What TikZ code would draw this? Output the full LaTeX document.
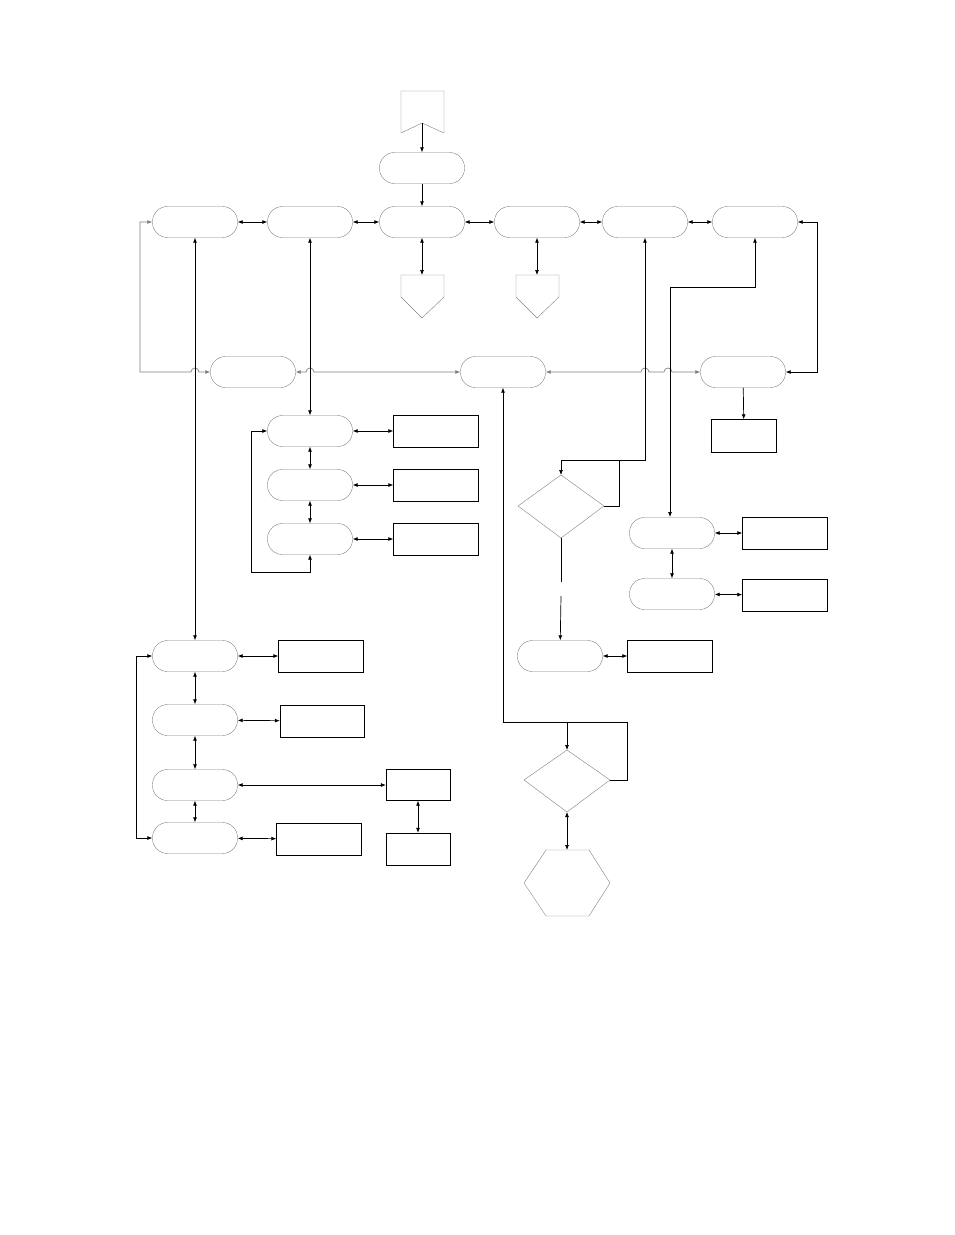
\documentclass[tikz,border=0pt]{standalone}
\usetikzlibrary{arrows.meta}
\begin{document}
\begin{tikzpicture}[x=1pt,y=-1pt,
  rb/.style={draw=gray,rounded corners=15pt,minimum width=85pt,minimum height=31pt,inner sep=0pt},
  rc/.style={draw,minimum width=85pt,minimum height=32pt,inner sep=0pt},
  ln/.style={draw,line width=0.7pt},
  a2/.style={ln,{Latex[length=5pt,width=4pt]}-{Latex[length=5pt,width=4pt]}},
  a1/.style={ln,-{Latex[length=5pt,width=4pt]}},
  sh/.style={draw=gray}]
\useasboundingbox (0,0) rectangle (954,1235);
% start flag
\draw[sh] (401,91) -- (444,91) -- (444,133) -- (422,123) -- (401,133) -- cycle;
\coordinate (fl) at (422,123);
\node[rb] (a0) at (422,168) {};
\foreach \n/\x in {b1/195,b2/310,b3/422,b4/537,b5/645,b6/755} \node[rb] (\n) at (\x,222) {};
\draw[a1] (fl) -- (a0);
\draw[a1] (a0) -- (b3);
\draw[a2] (b1) -- (b2); \draw[a2] (b2) -- (b3); \draw[a2] (b3) -- (b4);
\draw[a2] (b4) -- (b5); \draw[a2] (b5) -- (b6);
% offpage
\draw[sh] (401,275) -- (444,275) -- (444,297) -- (422,318) -- (401,297) -- cycle;
\draw[sh] (516,275) -- (559,275) -- (559,297) -- (537,318) -- (516,297) -- cycle;
\coordinate (p1) at (422,275); \coordinate (p2) at (537,275);
\draw[a2] (b3) -- (p1); \draw[a2] (b4) -- (p2);
% row 2
\node[rb] (c1) at (253,372) {};
\node[rb] (c2) at (503,372) {};
\node[rb] (c3) at (743,372) {};
\draw[a2,draw=gray] (b1.west) -- (140,222) -- (140,372) -- (191,372) arc[start angle=180,end angle=360,radius=4] -- (c1.west);
\draw[a2,draw=gray] (c1.east) -- (306,372) arc[start angle=180,end angle=360,radius=4] -- (c2.west);
\draw[a2,draw=gray] (c2.east) -- (641,372) arc[start angle=180,end angle=360,radius=4] -- (664,372) arc[start angle=180,end angle=360,radius=4] -- (c3.west);
\draw[a2] (b6.east) -- (817,222) -- (817,372) -- (c3.east);
\node[rc,minimum width=65pt,minimum height=33pt] (r0) at (744,436) {};
\draw[a1] (c3) -- (r0);
% middle column
\foreach \n/\y in {m1/431,m2/485,m3/539} {\node[rb] (\n) at (310,\y) {}; \node[rc] (\n r) at (436,\y) {}; \draw[a2] (\n) -- (\n r);}
\draw[a2] (b2) -- (m1);
\draw[a2] (m1) -- (m2); \draw[a2] (m2) -- (m3);
\draw[a2] (m1.west) -- (251,431) -- (251,572) -- (310,572) -- (m3.south);
% left column
\foreach \n/\y in {l1/656,l2/720,l3/785,l4/838} \node[rb] (\n) at (195,\y) {};
\node[rc] (l1r) at (321,656) {};
\node[rc,minimum width=84pt] (l2r) at (322,721) {};
\node[rc] (l4r) at (319,839) {};
\node[rc,minimum width=64pt,minimum height=31pt] (l3r) at (418,785) {};
\node[rc,minimum width=64pt,minimum height=32pt] (l5r) at (418,849) {};
\draw[a2] (b1) -- (l1);
\draw[a2] (l1) -- (l2); \draw[a2] (l2) -- (l3); \draw[a2] (l3) -- (l4);
\draw[a2] (l1) -- (l1r); \draw[a2] (l2) -- (l2r); \draw[a2] (l4) -- (l4r);
\draw[a2] (l3) -- (l3r); \draw[a2] (l3r) -- (l5r);
\draw[a2] (l1.west) -- (136,656) -- (136,838) -- (l4.west);
% diamond 1
\draw[sh] (561,475) -- (604,506) -- (561,538) -- (518,506) -- cycle;
\coordinate (d1t) at (561,475); \coordinate (d1r) at (604,506); \coordinate (d1b) at (561,538);
\node[rb] (e1) at (560,656) {};
\node[rc] (e1r) at (670,656) {};
\draw[a2] (e1) -- (e1r);
\draw[a2] (b5.south) -- (645,460) -- (561,460) -- (d1t);
\draw[ln] (d1r) -- (619,506) -- (619,460);
\draw[ln] (d1b) -- (561,582);
\draw[a1] (561,596) -- (e1);
% right column
\node[rb] (f1) at (672,533) {};
\node[rb] (f2) at (672,594) {};
\node[rc] (f1r) at (785,533) {};
\node[rc] (f2r) at (785,595) {};
\draw[a2] (f1) -- (f1r); \draw[a2] (f2) -- (f2r); \draw[a2] (f1) -- (f2);
\draw[a2] (b6.south) -- (755,287) -- (670,287) -- (670,517);
% diamond 2 and hexagon
\draw[sh] (567,750) -- (610,780) -- (567,812) -- (524,780) -- cycle;
\coordinate (d2t) at (567,750); \coordinate (d2r) at (610,780); \coordinate (d2b) at (567,812);
\draw[a2] (c2.south) -- (503,722) -- (567,722) -- (d2t);
\draw[ln] (d2r) -- (627,780) -- (627,722) -- (567,722);
\draw[sh] (546,850) -- (589,850) -- (610,883) -- (589,916) -- (546,916) -- (524,883) -- cycle;
\coordinate (hx) at (567,850);
\draw[a2] (d2b) -- (hx);
\end{tikzpicture}
\end{document}
